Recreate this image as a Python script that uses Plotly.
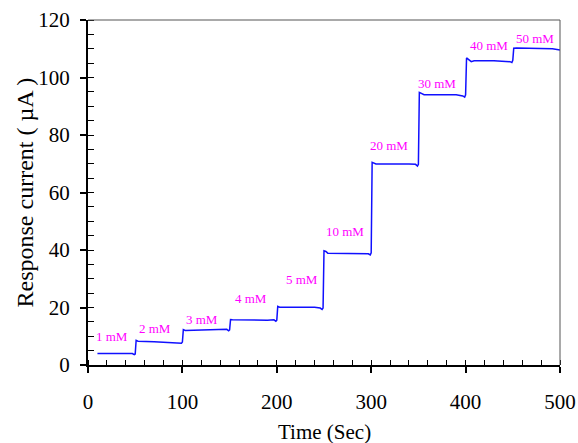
import plotly.graph_objects as go

# Trace (time in s, current in µA)
time_s = [10, 47, 49, 50, 51, 53, 70, 97, 99, 100,
          101, 103, 130, 147, 149, 150,
          151, 153, 190, 197, 199, 200,
          201, 203, 240, 246, 248, 249,
          250, 252, 254, 290, 297, 299, 300,
          301, 303, 305, 340, 347, 349, 350,
          351, 353, 356, 390, 397, 399, 400,
          401, 403, 406, 409, 430, 447, 449, 450,
          451, 454, 480, 492, 500]
current_uA = [4.0, 4.0, 3.6, 3.8, 8.6, 8.3, 8.1, 7.8, 7.6, 8.0,
              12.3, 12.0, 12.3, 12.4, 11.9, 12.2,
              15.8, 15.7, 15.6, 15.7, 15.2, 15.6,
              20.4, 20.1, 20.1, 19.8, 19.3, 19.8,
              39.7, 39.5, 38.9, 38.9, 38.7, 38.3, 39.0,
              70.5, 70.2, 69.9, 69.9, 69.8, 69.2, 69.8,
              94.8, 94.5, 94.0, 94.0, 93.6, 93.2, 94.0,
              106.8, 106.3, 105.5, 105.8, 105.8, 105.5, 105.2, 106.0,
              110.2, 110.3, 110.2, 110.0, 109.6]

# Concentration labels and where they sit
conc_labels = ["1 mM", "2 mM", "3 mM", "4 mM", "5 mM",
               "10 mM", "20 mM", "30 mM", "40 mM", "50 mM"]
label_t = [25, 71, 121, 173, 227, 272, 319, 370, 425, 473]
label_i = [9.9, 12.8, 15.9, 23.0, 29.6, 46.6, 76.2, 98.0, 111.3, 113.4]

x_ticks = [0, 100, 200, 300, 400, 500]
y_ticks = [0, 20, 40, 60, 80, 100, 120]

serif = "Liberation Serif, Times New Roman, serif"

fig = go.Figure()
fig.add_trace(go.Scatter(x=time_s, y=current_uA, mode="lines",
                         line=dict(color="#1010ff", width=1.5),
                         showlegend=False, hoverinfo="skip"))

for txt, t, i in zip(conc_labels, label_t, label_i):
    fig.add_annotation(x=t, y=i, text=txt, showarrow=False,
                       font=dict(family=serif, size=13, color="#ff00ff"))

fig.update_layout(
    width=578, height=443,
    margin=dict(l=88, r=18, t=20, b=78),
    paper_bgcolor="white", plot_bgcolor="white",
    font=dict(family=serif, color="black"),
    xaxis=dict(range=[0, 500], tickvals=x_ticks, showgrid=False, zeroline=False,
               automargin=False,
               showline=True, linecolor="black", linewidth=2,
               ticks="outside", ticklen=6, tickwidth=1.5, tickcolor="black",
               minor=dict(dtick=20, ticks="inside", ticklen=5, tickwidth=1, tickcolor="black"),
               tickfont=dict(family=serif, size=21), ticklabelstandoff=11),
    yaxis=dict(range=[0, 120], tickvals=y_ticks, showgrid=False, zeroline=False,
               automargin=False,
               showline=True, linecolor="black", linewidth=2,
               ticks="outside", ticklen=6, tickwidth=1.5, tickcolor="black",
               minor=dict(dtick=5, ticks="inside", ticklen=6, tickwidth=1, tickcolor="black"),
               tickfont=dict(family=serif, size=21), ticklabelstandoff=6),
)

# top and right frame lines
fig.add_shape(type="line", xref="paper", yref="paper", x0=0, x1=1, y0=1, y1=1,
              line=dict(color="#555555", width=1))
fig.add_shape(type="line", xref="paper", yref="paper", x0=1, x1=1, y0=0, y1=1,
              line=dict(color="#555555", width=1))

# axis titles
fig.add_annotation(xref="paper", yref="paper", x=0.5, y=0, yshift=-67,
                   xanchor="center", yanchor="middle",
                   text="Time (Sec)", showarrow=False,
                   font=dict(family=serif, size=21))
fig.add_annotation(xref="paper", yref="paper", x=0, y=0.5, xshift=-64,
                   xanchor="center", yanchor="middle",
                   text="Response current ( µA )", textangle=-90, showarrow=False,
                   font=dict(family=serif, size=24))

fig.write_html("out.html", config={"displayModeBar": False},
               post_script="document.body.style.margin='0';document.body.style.overflow='hidden';")
